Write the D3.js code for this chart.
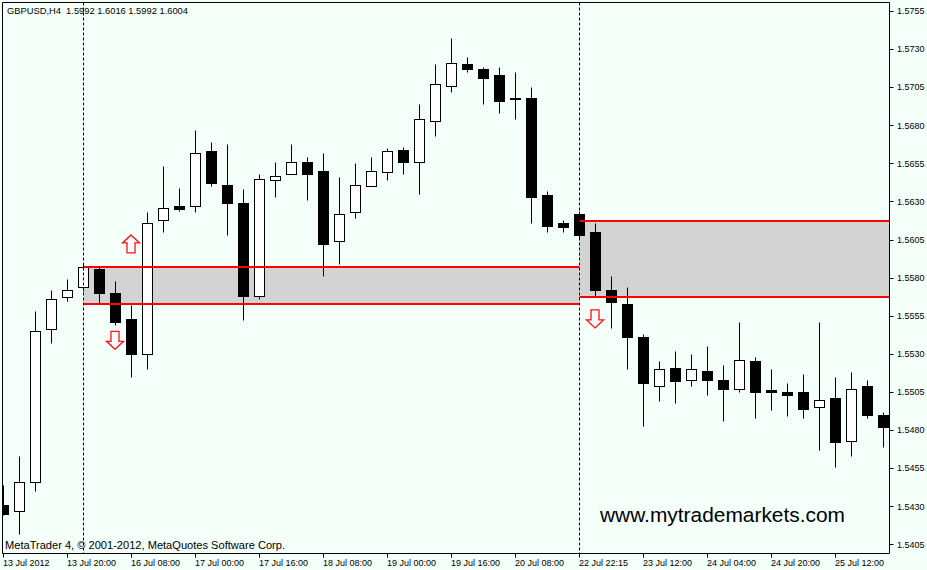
<!DOCTYPE html>
<html>
<head>
<meta charset="utf-8">
<script src="https://cdn.jsdelivr.net/npm/d3@7"></script>
<style>
html,body{margin:0;padding:0;background:#F5FFFA;}
svg{display:block;}
</style>
</head>
<body>
<svg id="chart" width="927" height="570"></svg>
<script>
// ---- Data (GBPUSD, H4) ----
const opens  = [1.5431,1.5427,1.5446,1.5546,1.5567,1.5574,1.5586,1.5570,1.5553,1.5530,
                1.5618,1.5627,1.5627,1.5663,1.5641,1.5629,1.5568,1.5644,1.5648,1.5656,
                1.5650,1.5604,1.5623,1.5640,1.5649,1.5664,1.5656,1.5683,1.5706,1.5720,
                1.5717,1.5713,1.5698,1.5698,1.5634,1.5616,1.5622,1.5610,1.5572,1.5563,
                1.5541,1.5509,1.5521,1.5513,1.5519,1.5513,1.5507,1.5525,1.5506,1.5505,
                1.5505,1.5495,1.5501,1.5473,1.5509,1.5490];
const highs  = [1.5444,1.5463,1.5558,1.5572,1.5579,1.5589,1.5587,1.5578,1.5562,1.5623,
                1.5653,1.5639,1.5677,1.5669,1.5668,1.5638,1.5648,1.5656,1.5668,1.5659,
                1.5662,1.5646,1.5655,1.5659,1.5665,1.5666,1.5694,1.5720,1.5737,1.5725,
                1.5718,1.5718,1.5715,1.5705,1.5637,1.5618,1.5624,1.5616,1.5581,1.5574,
                1.5543,1.5525,1.5532,1.5530,1.5535,1.5523,1.5551,1.5528,1.5520,1.5511,
                1.5517,1.5551,1.5515,1.5518,1.5513,1.5492];
const lows   = [1.5424,1.5412,1.5440,1.5537,1.5565,1.5571,1.5563,1.5549,1.5515,1.5520,
                1.5610,1.5624,1.5623,1.5640,1.5608,1.5552,1.5566,1.5633,1.5648,1.5631,
                1.5581,1.5589,1.5619,1.5640,1.5644,1.5648,1.5635,1.5673,1.5702,1.5715,
                1.5694,1.5688,1.5684,1.5616,1.5610,1.5610,1.5606,1.5567,1.5547,1.5520,
                1.5483,1.5499,1.5498,1.5509,1.5503,1.5486,1.5505,1.5488,1.5493,1.5489,
                1.5488,1.5467,1.5456,1.5463,1.5488,1.5469];
const closes = [1.5425,1.5446,1.5545,1.5566,1.5572,1.5587,1.5570,1.5551,1.5530,1.5616,
                1.5626,1.5625,1.5662,1.5642,1.5629,1.5568,1.5645,1.5647,1.5656,1.5648,
                1.5602,1.5622,1.5641,1.5650,1.5663,1.5656,1.5684,1.5707,1.5721,1.5717,
                1.5711,1.5696,1.5697,1.5633,1.5614,1.5613,1.5608,1.5572,1.5564,1.5541,
                1.5511,1.5520,1.5512,1.5520,1.5513,1.5507,1.5526,1.5505,1.5505,1.5503,
                1.5494,1.5500,1.5472,1.5507,1.5490,1.5482];

const timeLabels = ["13 Jul 2012","13 Jul 20:00","16 Jul 08:00","17 Jul 00:00","17 Jul 16:00",
                    "18 Jul 08:00","19 Jul 00:00","19 Jul 16:00","20 Jul 08:00","22 Jul 22:15",
                    "23 Jul 12:00","24 Jul 04:00","24 Jul 20:00","25 Jul 12:00"];
const timeLabelBars = [0,4,8,12,16,20,24,28,32,36,40,44,48,52];
const priceTicks = [1.5755,1.5730,1.5705,1.5680,1.5655,1.5630,1.5605,1.5580,1.5555,1.5530,1.5505,1.5480,1.5455,1.5430,1.5405];

// zones (support / resistance boxes)
const zoneStartBar = [5, 36];
const zoneEndBar   = [36, null];   // null = extends to the right edge
const zoneTop      = [1.5587, 1.5617];
const zoneBottom   = [1.5563, 1.5567];

// vertical separators
const separatorBars = [5, 36];

// signal arrows (price = arrow tip)
const arrowBars   = [8, 7, 37];
const arrowPrices = [1.5608, 1.5533, 1.5547];
const arrowDirs   = ["up", "down", "down"];

const titleText  = "GBPUSD,H4  1.5992 1.6016 1.5992 1.6004";
const footerText = "MetaTrader 4, \u00A9 2001-2012, MetaQuotes Software Corp.";
const watermark  = "www.mytrademarkets.com";

// ---- Layout ----
const plotL = 2.5, plotT = 2.5, plotR = 889.5, plotB = 553.5;
const FONT = "'Liberation Sans', Arial, sans-serif";

const svg = d3.select("#chart");
svg.append("rect").attr("width",927).attr("height",570).attr("fill","#F5FFFA");

const x = d3.scaleLinear().domain([0, 55]).range([3.5, 883.5]);
const y = d3.scaleLinear().domain([1.5405, 1.5755]).range([544.4, 10.9]);
const py = v => Math.round(y(v)) + 0.5;

svg.append("defs").append("clipPath").attr("id","plotclip")
  .append("rect").attr("x",plotL+0.5).attr("y",plotT+0.5)
  .attr("width",plotR-plotL-1).attr("height",plotB-plotT-1);

const plot = svg.append("g").attr("clip-path","url(#plotclip)");

// zones background
const zoneIdx = d3.range(zoneTop.length);
plot.selectAll("rect.zone").data(zoneIdx).join("rect")
  .attr("class","zone")
  .attr("x", i => x(zoneStartBar[i]))
  .attr("width", i => (zoneEndBar[i] === null ? plotR : x(zoneEndBar[i])) - x(zoneStartBar[i]))
  .attr("y", i => Math.round(y(zoneTop[i])))
  .attr("height", i => Math.round(y(zoneBottom[i])) - Math.round(y(zoneTop[i])))
  .attr("fill","#D3D3D3");

// candles
const bars = d3.range(opens.length);
const cg = plot.append("g");
cg.selectAll("line.wick").data(bars).join("line")
  .attr("class","wick")
  .attr("x1", i => x(i)).attr("x2", i => x(i))
  .attr("y1", i => py(highs[i])).attr("y2", i => py(lows[i]))
  .attr("stroke","#000").attr("stroke-width",1);
cg.selectAll("rect.body").data(bars).join("rect")
  .attr("class","body")
  .attr("x", i => x(i) - 5)
  .attr("width", 10)
  .attr("y", i => py(Math.max(opens[i], closes[i])))
  .attr("height", i => Math.max(1, py(Math.min(opens[i], closes[i])) - py(Math.max(opens[i], closes[i]))))
  .attr("fill", i => closes[i] > opens[i] ? "#FFFFFF" : "#000000")
  .attr("stroke","#000").attr("stroke-width",1);

// vertical dotted separators
plot.selectAll("line.sep").data(separatorBars).join("line")
  .attr("class","sep")
  .attr("x1", b => x(b)).attr("x2", b => x(b))
  .attr("y1", plotT).attr("y2", plotB)
  .attr("stroke","#000").attr("stroke-width",1).attr("stroke-dasharray","3,2");

// red zone lines
zoneIdx.forEach(i => {
  const x1 = x(zoneStartBar[i]);
  const x2 = zoneEndBar[i] === null ? plotR : x(zoneEndBar[i]);
  [zoneTop[i], zoneBottom[i]].forEach(p => {
    plot.append("line")
      .attr("x1", x1).attr("x2", x2)
      .attr("y1", Math.round(y(p))).attr("y2", Math.round(y(p)))
      .attr("stroke","#FF0000").attr("stroke-width",2.2);
  });
});

// arrows
function arrowPath(cx, ty, dir) {
  const s = dir === "up" ? 1 : -1;
  const pts = [[0,0],[8.5,8],[4,8],[4,18],[-4,18],[-4,8],[-8.5,8]];
  return "M" + pts.map(p => [cx + p[0], ty + s * p[1]].join(",")).join("L") + "Z";
}
plot.selectAll("path.arrow").data(d3.range(arrowBars.length)).join("path")
  .attr("class","arrow")
  .attr("d", i => arrowPath(x(arrowBars[i]) - 0.5, y(arrowPrices[i]), arrowDirs[i]))
  .attr("fill","#FFFFFF").attr("stroke","#FF1010").attr("stroke-width",1.3)
  .attr("stroke-linejoin","miter");

// frame
svg.append("path")
  .attr("d", `M${plotL},${plotB}V${plotT}H${plotR}V${plotB}H${plotL}`)
  .attr("fill","none").attr("stroke","#000").attr("stroke-width",1);

// right price axis
const ay = svg.append("g");
ay.selectAll("line").data(priceTicks).join("line")
  .attr("x1", plotR).attr("x2", plotR + 4)
  .attr("y1", p => Math.round(y(p)) + 0.5).attr("y2", p => Math.round(y(p)) + 0.5)
  .attr("stroke","#000");
ay.selectAll("text").data(priceTicks).join("text")
  .attr("x", 897).attr("y", p => y(p) + 3.3)
  .attr("font-family", FONT).attr("font-size", 9).attr("fill","#000")
  .text(p => p.toFixed(4));

// bottom time axis
const ax = svg.append("g");
ax.selectAll("line").data(timeLabelBars).join("line")
  .attr("x1", b => x(b) - 0.5 + 0.5).attr("x2", b => x(b) - 0.5 + 0.5)
  .attr("y1", plotB).attr("y2", plotB + 4)
  .attr("stroke","#000");
ax.selectAll("text").data(timeLabelBars).join("text")
  .attr("x", b => x(b) - 0.5).attr("y", 566)
  .attr("font-family", FONT).attr("font-size", 9).attr("fill","#000")
  .text((b, i) => timeLabels[i]);

// texts
svg.append("text").attr("x",7).attr("y",14)
  .attr("font-family",FONT).attr("font-size",9.5).attr("fill","#000")
  .attr("textLength",181).attr("lengthAdjust","spacingAndGlyphs")
  .style("white-space","pre").text(titleText);
svg.append("text").attr("x",5).attr("y",549)
  .attr("font-family",FONT).attr("font-size",10.5).attr("fill","#000")
  .attr("textLength",280).attr("lengthAdjust","spacingAndGlyphs")
  .text(footerText);
svg.append("text").attr("x",600).attr("y",522)
  .attr("font-family",FONT).attr("font-size",20.5).attr("fill","#000")
  .attr("textLength",245).attr("lengthAdjust","spacingAndGlyphs")
  .text(watermark);
</script>
</body>
</html>
